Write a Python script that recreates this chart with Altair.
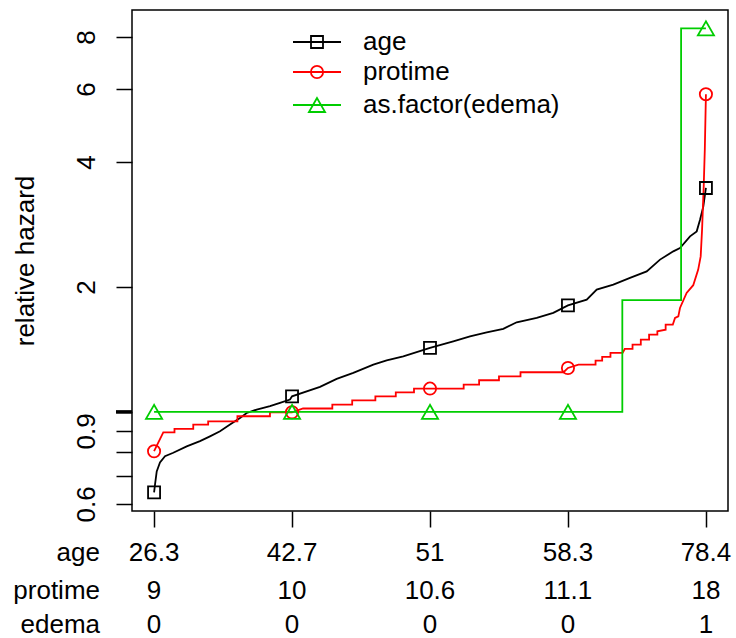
import altair as alt
import pandas as pd

FONT = "Liberation Sans"
FS = 26

# ---- data ----
series = ["age", "protime", "as.factor(edema)"]
colors = ["#000000", "#FF0000", "#00CD00"]
shapes = ["square", "circle", "triangle-up"]
marker_sizes = [144, 150, 260]

age_pct = [0, 0.17, 0.48, 1.07, 1.98, 3.48, 5.91, 8.32, 10.13, 11.95, 13.76, 15.57, 16.79, 18.6,
           21.01, 22.82, 24.63, 25.0, 30.07, 33.09, 36.1, 39.73, 42.15, 45.16, 50.0, 54.22, 57.25,
           60.28, 63.28, 65.71, 69.34, 72.34, 75.0, 78.4, 80.21, 83.22, 86.24, 89.27, 91.68, 94.09,
           95.3, 97.12, 98.33, 98.93, 99.53, 100]
age_hr = [0.640, 0.668, 0.719, 0.755, 0.782, 0.797, 0.826, 0.850, 0.873, 0.898, 0.932, 0.967, 0.994,
          1.013, 1.032, 1.051, 1.071, 1.090, 1.149, 1.201, 1.242, 1.300, 1.331, 1.361, 1.426, 1.479,
          1.521, 1.555, 1.585, 1.644, 1.684, 1.732, 1.806, 1.864, 1.971, 2.026, 2.103, 2.181, 2.328,
          2.437, 2.483, 2.648, 2.723, 2.905, 3.128, 3.464]

pt_pct = [0, 1.67, 3.7, 3.7, 7.1, 7.1, 9.8, 9.8, 15.1, 15.1, 21.0, 21.0, 25.0, 27.0, 32.3, 32.3,
          35.9, 35.9, 40.1, 40.1, 43.8, 43.8, 47.1, 47.1, 56.1, 56.1, 58.9, 58.9, 62.5, 62.5, 66.4,
          66.4, 74.2, 75.0, 76.9, 80.0, 80.0, 81.2, 81.2, 82.7, 82.7, 84.9, 85.3, 86.7, 86.7, 88.2,
          88.2, 89.7, 89.7, 91.2, 91.2, 92.7, 92.7, 94.0, 94.4, 95.0, 95.3, 96.5, 97.7, 98.6, 99.05,
          99.3, 99.6, 99.8, 100]
pt_hr = [0.804, 0.893, 0.893, 0.910, 0.910, 0.932, 0.932, 0.949, 0.949, 0.976, 0.976, 0.998, 0.998,
         1.019, 1.019, 1.041, 1.041, 1.066, 1.066, 1.090, 1.090, 1.115, 1.115, 1.138, 1.138, 1.163,
         1.163, 1.192, 1.192, 1.218, 1.218, 1.246, 1.246, 1.276, 1.300, 1.300, 1.329, 1.329, 1.357,
         1.357, 1.387, 1.387, 1.418, 1.418, 1.452, 1.452, 1.493, 1.493, 1.535, 1.535, 1.564, 1.578,
         1.623, 1.623, 1.684, 1.699, 1.780, 1.935, 2.02, 2.202, 2.37, 2.75, 3.5, 4.3, 5.83]

ed_pct = [0, 84.85, 84.85, 95.5, 95.5, 100]
ed_hr = [1.0, 1.0, 1.86, 1.86, 8.4, 8.4]

marker_pct = [0, 25, 50, 75, 100]
age_mk = [0.640, 1.090, 1.426, 1.806, 3.464]
pt_mk = [0.804, 0.998, 1.138, 1.276, 5.83]
ed_mk = [1.0, 1.0, 1.0, 1.0, 8.4]

row_names = ["age", "protime", "edema"]
age_labels = ["26.3", "42.7", "51", "58.3", "78.4"]
protime_labels = ["9", "10", "10.6", "11.1", "18"]
edema_labels = ["0", "0", "0", "0", "1"]

y_ticks = [0.6, 0.7, 0.8, 0.9, 1, 2, 4, 6, 8]
y_labeled = [0.6, 0.9, 2, 4, 6, 8]

# ---- scales & axes ----
W, H = 596, 501
xs = alt.Scale(domain=[-4, 104], nice=False, zero=False)
ys = alt.Scale(type="log", domain=[0.577, 9.30], nice=False, zero=False)

lab_expr = "indexof([" + ",".join(str(v) for v in y_labeled) + "], datum.value) >= 0 ? datum.label : ''"

x_axis = alt.Axis(values=marker_pct, labels=False, title=None, domain=False,
                  ticks=True, tickSize=16, tickWidth=1.5, tickColor="black", grid=False)
y_axis = alt.Axis(values=y_ticks, labelExpr=lab_expr, labelAngle=-90,
                  labelAlign="center", labelBaseline="alphabetic",
                  labelPadding=22, labelFont=FONT, labelFontSize=FS,
                  labelColor="black", labelOverlap=False, labelBound=False,
                  domain=False, tickSize=16, tickWidth=1.5, tickColor="black",
                  grid=False, title="relative hazard", titleFont=FONT,
                  titleFontSize=FS, titleFontWeight="normal", titleColor="black",
                  titleAngle=-90, titleAlign="center", titleBaseline="alphabetic",
                  titleX=-99, titleY=H / 2)

def X():
    return alt.X("pct:Q", scale=xs, axis=x_axis)

def Y():
    return alt.Y("hr:Q", scale=ys, axis=y_axis)

curves = [(age_pct, age_hr), (pt_pct, pt_hr), (ed_pct, ed_hr)]
mks = [age_mk, pt_mk, ed_mk]

layers = []
for k, (px, hy) in enumerate(curves):
    df = pd.DataFrame({"pct": px, "hr": hy, "i": list(range(len(px)))})
    layers.append(
        alt.Chart(df).mark_line(color=colors[k], strokeWidth=1.8)
        .encode(x=X(), y=Y(), order=alt.Order("i:Q"))
    )

for k in range(3):
    dm = pd.DataFrame({"pct": marker_pct, "hr": mks[k]})
    layers.append(
        alt.Chart(dm).mark_point(shape=shapes[k], size=marker_sizes[k], filled=False,
                                 color=colors[k], strokeWidth=1.8, opacity=1)
        .encode(x=X(), y=Y())
    )

# thicker tick at 1 (doubled in the reference)
layers.append(
    alt.Chart(pd.DataFrame({"hr": [1.0]})).mark_rule(color="black", strokeWidth=3.5)
    .encode(y=Y(), x=alt.value(-16), x2=alt.value(0))
)

# legend (drawn inside the plot, top)
leg_y = [32, 62, 95]
for k, name in enumerate(series):
    d1 = pd.DataFrame({"name": [name]})
    layers.append(alt.Chart(d1).mark_rule(color=colors[k], strokeWidth=1.8)
                  .encode(x=alt.value(161), x2=alt.value(209), y=alt.value(leg_y[k])))
    layers.append(alt.Chart(d1).mark_point(shape=shapes[k], size=marker_sizes[k], filled=False,
                                           color=colors[k], strokeWidth=1.8, opacity=1)
                  .encode(x=alt.value(185), y=alt.value(leg_y[k])))
    layers.append(alt.Chart(d1).mark_text(align="left", baseline="middle", font=FONT,
                                          fontSize=FS, color="black")
                  .encode(x=alt.value(231), y=alt.value(leg_y[k]), text="name:N"))

# bottom table
row_y = [543, 581, 615]
for r, labels in enumerate([age_labels, protime_labels, edema_labels]):
    dt = pd.DataFrame({"pct": marker_pct, "lab": labels})
    layers.append(alt.Chart(dt).mark_text(align="center", baseline="middle", font=FONT,
                                          fontSize=FS, color="black")
                  .encode(x=X(), y=alt.value(row_y[r]), text="lab:N"))
    dn = pd.DataFrame({"name": [row_names[r]]})
    layers.append(alt.Chart(dn).mark_text(align="right", baseline="middle", font=FONT,
                                          fontSize=FS, color="black")
                  .encode(x=alt.value(-32), y=alt.value(row_y[r]), text="name:N"))

chart = alt.layer(*layers).properties(
    width=W, height=H,
    padding={"left": 132, "top": 10, "right": 8, "bottom": 127},
    autosize=alt.AutoSizeParams(type="none"),
    background="white",
).configure_view(stroke="black", strokeWidth=1.5)

chart.save("out.html", embed_options={"renderer": "svg", "actions": False})
